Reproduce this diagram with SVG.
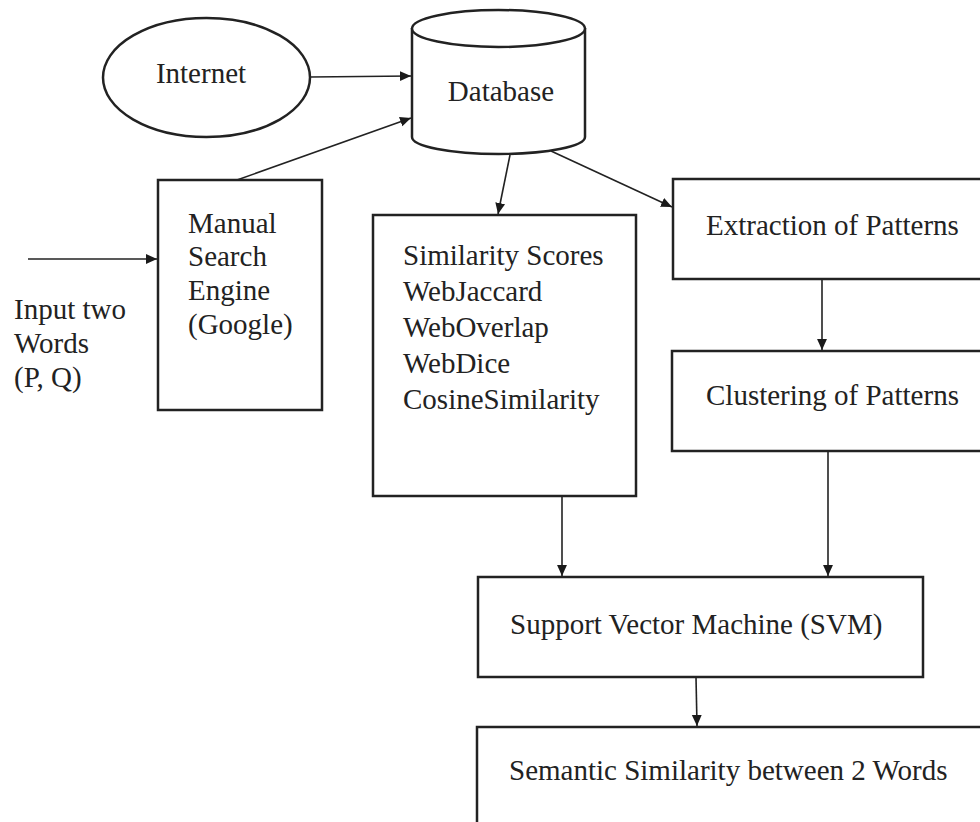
<svg xmlns="http://www.w3.org/2000/svg" width="980" height="822" viewBox="0 0 980 822">
<defs>
<marker id="ah" viewBox="0 0 10 10" refX="10" refY="5" markerWidth="11" markerHeight="11" markerUnits="userSpaceOnUse" orient="auto">
<path d="M0,0.5 L10,5 L0,9.5 z" fill="#1a1a1a"/>
</marker>
<style>
.box{fill:#fff;stroke:#222;stroke-width:2.5}
.t{font-family:"Liberation Serif","Times New Roman",serif;font-size:29px;fill:#222}
.c{fill:none;stroke:#222;stroke-width:1.6;marker-end:url(#ah)}
</style>
</defs>
<rect width="980" height="822" fill="#fff"/>
<g id="internet">
<ellipse class="box" cx="206.5" cy="77.5" rx="103.5" ry="59.5"/>
<text class="t" x="201" y="83" text-anchor="middle">Internet</text>
</g>
<g id="database">
<path class="box" d="M412,28 L412,137 A86.5,17 0 0 0 585,137 L585,28"/>
<ellipse class="box" cx="498.5" cy="28.5" rx="86.5" ry="18.5"/>
<text class="t" x="501" y="101" text-anchor="middle">Database</text>
</g>
<g id="manual">
<rect class="box" x="158" y="180" width="164" height="230"/>
<text class="t" x="188" y="233">Manual</text>
<text class="t" x="188" y="266">Search</text>
<text class="t" x="188" y="300">Engine</text>
<text class="t" x="188" y="334">(Google)</text>
</g>
<g id="input">
<text class="t" x="14" y="319">Input two</text>
<text class="t" x="14" y="353">Words</text>
<text class="t" x="14" y="387">(P, Q)</text>
</g>
<g id="similarity">
<rect class="box" x="373" y="215" width="263" height="281"/>
<text class="t" x="403" y="265">Similarity Scores</text>
<text class="t" x="403" y="301">WebJaccard</text>
<text class="t" x="403" y="337">WebOverlap</text>
<text class="t" x="403" y="373">WebDice</text>
<text class="t" x="403" y="409">CosineSimilarity</text>
</g>
<g id="extraction">
<rect class="box" x="673" y="179" width="310" height="100"/>
<text class="t" x="706" y="235">Extraction of Patterns</text>
</g>
<g id="clustering">
<rect class="box" x="672" y="351" width="311" height="100"/>
<text class="t" x="706" y="405">Clustering of Patterns</text>
</g>
<g id="svm">
<rect class="box" x="478" y="577" width="445" height="100"/>
<text class="t" x="510" y="634">Support Vector Machine (SVM)</text>
</g>
<g id="semantic">
<rect class="box" x="477" y="727" width="510" height="110"/>
<text class="t" x="509" y="780">Semantic Similarity between 2 Words</text>
</g>
<g id="connectors">
<line class="c" x1="28" y1="259" x2="157" y2="259"/>
<line class="c" x1="310" y1="77" x2="411" y2="76"/>
<line class="c" x1="237" y1="180" x2="411" y2="118"/>
<line class="c" x1="510" y1="155" x2="498" y2="214"/>
<line class="c" x1="551" y1="151" x2="672" y2="207"/>
<line class="c" x1="822" y1="279" x2="822" y2="350"/>
<line class="c" x1="828" y1="451" x2="828" y2="576"/>
<line class="c" x1="562" y1="496" x2="562" y2="576"/>
<line class="c" x1="696" y1="677" x2="697" y2="726"/>
</g>
</svg>
